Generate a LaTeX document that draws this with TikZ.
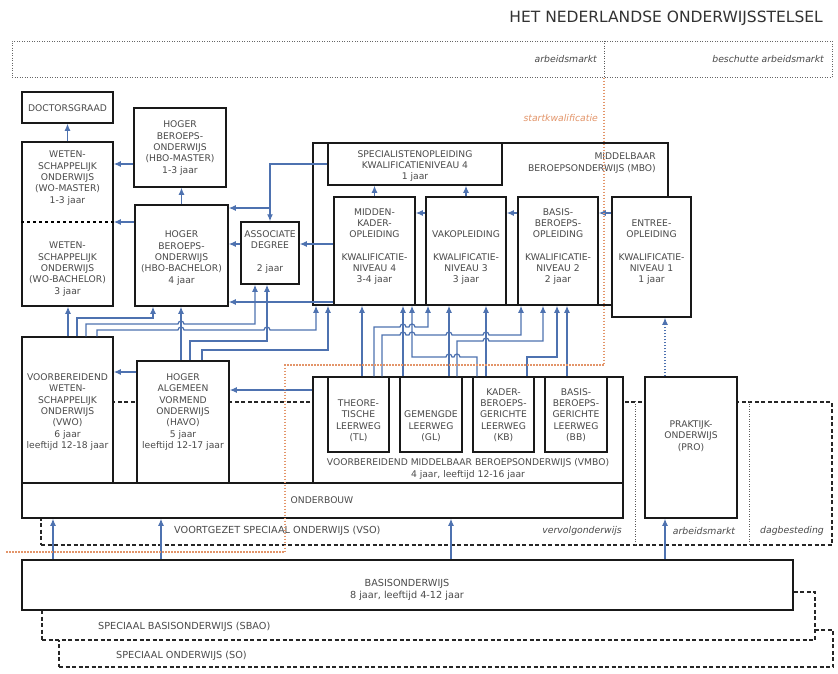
\documentclass[tikz,border=0pt]{standalone}
\usepackage{fontspec}
\setmainfont{DejaVu Sans}
\usetikzlibrary{arrows.meta,fit}

\definecolor{linkblue}{HTML}{4E72B0}
\definecolor{startorange}{HTML}{E3956A}
\definecolor{textgrey}{HTML}{4A4A4A}

% little jump of a line over a crossing one
\newcommand\hopr[2]{-- (#1-3,#2) arc[start angle=180,end angle=0,radius=3pt]}
\newcommand\hopl[2]{-- (#1+3,#2) arc[start angle=0,end angle=180,radius=3pt]}

\begin{document}
\begin{tikzpicture}[x=1pt,y=-1pt,
    box/.style={draw=black!90,line width=1.5pt,fill=white,inner sep=0pt},
    dashbox/.style={draw=black!85,line width=1.3pt,dash pattern=on 4pt off 2.5pt,inner sep=0pt},
    bandbox/.style={draw=black!60,line width=1pt,dash pattern=on 1pt off 1.5pt,inner sep=0pt},
    thindot/.style={draw=black!65,line width=1pt,dash pattern=on 1pt off 1.5pt},
    txt/.style={font=\fontsize{9.2}{11.3}\selectfont,text=textgrey,align=center,inner sep=0pt},
    bigtxt/.style={font=\fontsize{9.7}{12}\selectfont,text=textgrey,align=center,inner sep=0pt},
    lbl/.style={font=\fontsize{9.3}{11}\selectfont\itshape,text=textgrey,inner sep=0pt},
    arr/.style={draw=linkblue,line width=1.2pt,-{Latex[length=7pt,width=6pt]}},
    startline/.style={draw=startorange,line width=1.1pt,dash pattern=on 1.2pt off 1.8pt}]

\fill[white] (0,0) rectangle (838,673);
\useasboundingbox (0,0) rectangle (838,673);

\node[anchor=east,font=\fontsize{15.5}{17}\selectfont,text=black!80,inner sep=0pt] (title) at (823,18) {HET NEDERLANDSE ONDERWIJSSTELSEL};

% arbeidsmarkt band
\node[bandbox,fit={(12,41) (832,77)}] (band) {};
\draw[thindot] (band.north -| 604,0) -- (band.south -| 604,0);
\node[lbl,anchor=east] (arbeid) at (597,59) {arbeidsmarkt};
\node[lbl,anchor=east] (beschut) at (824,59) {beschutte arbeidsmarkt};

% speciaal onderwijs behind the boxes
\node[dashbox,fit={(41,402) (832,545)}] (vso) {};
\draw[thindot] (vso.north -| 635,0) -- (vso.south -| 635,0);
\draw[thindot] (vso.north -| 749,0) -- (vso.south -| 749,0);
\node[dashbox,fit={(59,630) (833,667)}] (so) {};
\node[dashbox,fill=white,fit={(42,592) (815,640)}] (sbao) {};
\node[box,fit={(22,560) (793,610)}] (basis) {};

% boxes
\node[box,fit={(22,92) (113,123)}] (doc) {};
\node[box,fit={(22,142) (113,306)}] (wo) {};
\draw[dashed,line width=1.2pt] (wo.west |- 0,222) -- (wo.east |- 0,222);
\node[box,fit={(134,108) (226,187)}] (hbom) {};
\node[box,fit={(135,205) (228,306)}] (hbob) {};
\node[box,fit={(241,222) (299,284)}] (ad) {};
\node[box,fit={(313,143) (668,305)}] (mbo) {};
\node[box,fit={(328,143) (502,185)}] (spec) {};
\node[box,fit={(334,197) (415,305)}] (mk) {};
\node[box,fit={(426,197) (506,305)}] (vak) {};
\node[box,fit={(518,197) (598,305)}] (bbo) {};
\node[box,fit={(612,197) (691,317)}] (entree) {};
\node[box,fit={(22,337) (113,483)}] (vwo) {};
\node[box,fit={(137,361) (229,483)}] (havo) {};
\node[box,fit={(313,377) (623,483)}] (vmbo) {};
\node[box,fit={(328,377) (389,452)}] (tl) {};
\node[box,fit={(400,377) (462,452)}] (gl) {};
\node[box,fit={(473,377) (534,452)}] (kb) {};
\node[box,fit={(545,377) (607,452)}] (bb) {};
\node[box,fit={(645,377) (737,518)}] (pro) {};
\node[box,fit={(22,483) (623,518)}] (ob) {};

% texts
\node[txt] (doc-t) at (67.5,108) {DOCTORSGRAAD};
\node[txt] (wom-t) at (67.5,178) {WETEN-\\SCHAPPELIJK\\ONDERWIJS\\(WO-MASTER)\\1-3 jaar};
\node[txt] (wob-t) at (67.5,269) {WETEN-\\SCHAPPELIJK\\ONDERWIJS\\(WO-BACHELOR)\\3 jaar};
\node[txt] (hbom-t) at (180,148) {HOGER\\BEROEPS-\\ONDERWIJS\\(HBO-MASTER)\\1-3 jaar};
\node[txt] (hbob-t) at (181.5,258) {HOGER\\BEROEPS-\\ONDERWIJS\\(HBO-BACHELOR)\\4 jaar};
\node[txt] (ad-t) at (270,252) {ASSOCIATE\\DEGREE\\[11.3pt]2 jaar};
\node[txt] (spec-t) at (415,166) {SPECIALISTENOPLEIDING\\KWALIFICATIENIVEAU 4\\1 jaar};
\node[txt,align=right,anchor=east] (mbo-t) at (656,163) {MIDDELBAAR\\BEROEPSONDERWIJS (MBO)};
\node[txt,anchor=south] (mk-t) at (374.5,285) {MIDDEN-\\KADER-\\OPLEIDING\\[11.3pt]KWALIFICATIE-\\NIVEAU 4\\3-4 jaar};
\node[txt,anchor=south] (vak-t) at (466,285) {VAKOPLEIDING\\[11.3pt]KWALIFICATIE-\\NIVEAU 3\\3 jaar};
\node[txt,anchor=south] (bbo-t) at (558,285) {BASIS-\\BEROEPS-\\OPLEIDING\\[11.3pt]KWALIFICATIE-\\NIVEAU 2\\2 jaar};
\node[txt,anchor=south] (entree-t) at (651.5,285) {ENTREE-\\OPLEIDING\\[11.3pt]KWALIFICATIE-\\NIVEAU 1\\1 jaar};
\node[txt] (vwo-t) at (67.5,412) {VOORBEREIDEND\\WETEN-\\SCHAPPELIJK\\ONDERWIJS\\(VWO)\\6 jaar\\leeftijd 12-18 jaar};
\node[txt] (havo-t) at (183,412) {HOGER\\ALGEMEEN\\VORMEND\\ONDERWIJS\\(HAVO)\\5 jaar\\leeftijd 12-17 jaar};
\node[txt,anchor=south] (tl-t) at (358.5,442) {THEORE-\\TISCHE\\LEERWEG\\(TL)};
\node[txt,anchor=south] (gl-t) at (431,442) {GEMENGDE\\LEERWEG\\(GL)};
\node[txt,anchor=south] (kb-t) at (503.5,442) {KADER-\\BEROEPS-\\GERICHTE\\LEERWEG\\(KB)};
\node[txt,anchor=south] (bb-t) at (576,442) {BASIS-\\BEROEPS-\\GERICHTE\\LEERWEG\\(BB)};
\node[txt] (vmbo-t) at (468,469) {VOORBEREIDEND MIDDELBAAR BEROEPSONDERWIJS (VMBO)\\4 jaar, leeftijd 12-16 jaar};
\node[txt] (ob-t) at (322,500) {ONDERBOUW};
\node[txt] (pro-t) at (691,436) {PRAKTIJK-\\ONDERWIJS\\(PRO)};
\node[bigtxt,anchor=west] (vso-t) at (174,531) {VOORTGEZET SPECIAAL ONDERWIJS (VSO)};
\node[lbl,anchor=east] (vervolg) at (622,531) {vervolgonderwijs};
\node[lbl] (arbeid2) at (704,531) {arbeidsmarkt};
\node[lbl] (dag) at (792,531) {dagbesteding};
\node[bigtxt] (basis-t) at (407,590) {BASISONDERWIJS\\8 jaar, leeftijd 4-12 jaar};
\node[bigtxt,anchor=west] (sbao-t) at (98,627) {SPECIAAL BASISONDERWIJS (SBAO)};
\node[bigtxt,anchor=west] (so-t) at (116,656) {SPECIAAL ONDERWIJS (SO)};
\node[lbl,text=startorange,anchor=east] (start) at (598,118) {startkwalificatie};

% hoger onderwijs
\draw[arr] (wo.north) -- (doc.south);
\draw[arr] (hbob.north) -- (hbob.north |- hbom.south);
\draw[arr] (hbom.west |- 0,164) -- (wo.east |- 0,164);
\draw[arr] (hbob.west |- 0,222) -- (wo.east |- 0,222);
\draw[arr] (ad.west |- 0,244) -- (hbob.east |- 0,244);
\draw[arr] (spec.west) -- (ad.north |- spec.west) -- (ad.north);
\draw[arr] (ad.north |- 0,208) -- (hbob.east |- 0,208);
\draw[arr] (mk.west |- 0,244) -- (ad.east |- 0,244);
\draw[arr] (mk.west |- 0,302) -- (hbob.east |- 0,302);

% mbo
\draw[arr] (mk.north) -- (mk.north |- spec.south);
\draw[arr] (vak.north) -- (vak.north |- spec.south);
\draw[arr] (vak.west |- 0,213) -- (mk.east |- 0,213);
\draw[arr] (bbo.west |- 0,213) -- (vak.east |- 0,213);
\draw[arr] (entree.west |- 0,213) -- (bbo.east |- 0,213);
\draw[arr,dash pattern=on 1.2pt off 1.8pt] (pro.north -| 665,0) -- (entree.south -| 665,0);

% vwo en havo
\draw[arr] (havo.west |- 0,372) -- (vwo.east |- 0,372);
\draw[arr] (vmbo.west |- 0,390) -- (havo.east |- 0,390);
\draw[arr] (vwo.north -| 68,0) -- (wo.south -| 68,0);
\draw[arr] (vwo.north -| 77,0) -- (77,318) -- (153,318) -- (hbob.south -| 153,0);
\draw[arr] (vwo.north -| 86,0) -- (86,324) \hopr{181}{324} -- (255,324) -- (ad.south -| 255,0);
\draw[arr] (vwo.north -| 97,0) -- (97,330) \hopr{181}{330} \hopr{267}{330} -- (316,330) -- (mbo.south -| 316,0);
\draw[arr] (havo.north -| 181,0) -- (hbob.south -| 181,0);
\draw[arr] (havo.north -| 190,0) -- (190,341) -- (267,341) -- (ad.south -| 267,0);
\draw[arr] (havo.north -| 202,0) -- (202,350) -- (328,350) -- (mbo.south -| 328,0);

% vmbo naar mbo
\draw[arr] (tl.north -| 362,0) -- (mk.south -| 362,0);
\draw[arr] (gl.north -| 403,0) -- (mk.south -| 403,0);
\draw[arr] (kb.north -| 477,0) -- (477,357) \hopl{457}{357} \hopl{449}{357} -- (412,357) -- (mk.south -| 412,0);
\draw[arr] (tl.north -| 374,0) -- (374,327) \hopr{403}{327} \hopr{412}{327} -- (428,327) -- (vak.south -| 428,0);
\draw[arr] (gl.north -| 449,0) -- (vak.south -| 449,0);
\draw[arr] (kb.north -| 486,0) -- (vak.south -| 486,0);
\draw[arr] (tl.north -| 382,0) -- (382,335) \hopr{403}{335} \hopr{412}{335} \hopr{449}{335} \hopr{486}{335} -- (521,335) -- (bbo.south -| 521,0);
\draw[arr] (gl.north -| 457,0) -- (457,341) \hopr{486}{341} -- (543,341) -- (bbo.south -| 543,0);
\draw[arr] (kb.north -| 527,0) -- (527,357) -- (557,357) -- (bbo.south -| 557,0);
\draw[arr] (bb.north -| 567,0) -- (bbo.south -| 567,0);

% basisonderwijs
\draw[arr] (basis.north -| 53,0) -- (ob.south -| 53,0);
\draw[arr] (basis.north -| 161,0) -- (ob.south -| 161,0);
\draw[arr] (basis.north -| 451,0) -- (ob.south -| 451,0);
\draw[arr] (basis.north -| 665,0) -- (pro.south -| 665,0);

% startkwalificatie
\draw[startline] (band.south -| 604,0) -- (604,365) -- (285,365) -- (285,552) -- (5,552);
\end{tikzpicture}
\end{document}
